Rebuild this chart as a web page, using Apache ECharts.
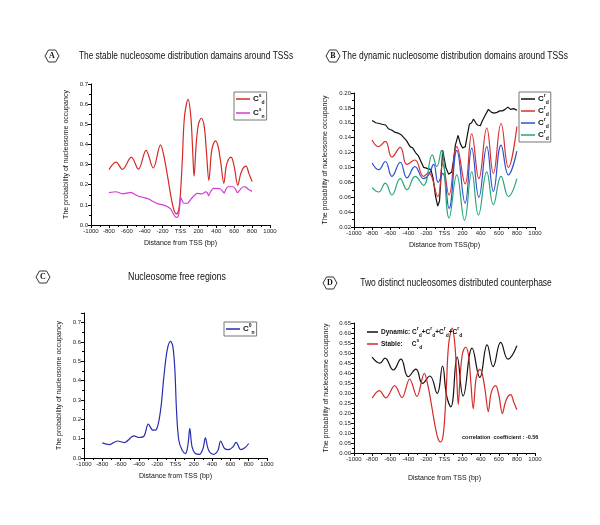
<!DOCTYPE html>
<html><head><meta charset="utf-8">
<script src="https://cdn.jsdelivr.net/npm/echarts@6/dist/echarts.min.js"></script>
<style>html,body{margin:0;padding:0;background:#fff}#c{width:600px;height:525px}</style>
</head><body><div id="c"></div>
<script>
// ---------- Panel A : stable nucleosomes ----------
const xA_red = [-800,-720,-648,-550,-470,-385,-305,-223,-180,-140,-100,-70,-45,-20,0,20,45,85,115,135,152,175,200,232,265,290,317,345,365,392,420,450,484,510,535,565,600,640,670,700,732,765,800];
const yA_red = [0.274,0.312,0.276,0.337,0.277,0.370,0.283,0.398,0.33,0.23,0.125,0.07,0.055,0.075,0.16,0.32,0.54,0.624,0.54,0.38,0.242,0.40,0.50,0.53,0.49,0.36,0.222,0.36,0.40,0.418,0.39,0.31,0.207,0.29,0.325,0.337,0.29,0.197,0.25,0.282,0.292,0.255,0.216];
const xA_mag = [-800,-720,-650,-600,-555,-500,-470,-400,-350,-300,-250,-200,-150,-110,-85,-60,-40,-25,-10,0,15,35,80,110,140,185,240,280,300,314,335,369,443,470,487,510,535,590,615,635,660,701,730,756,800];
const yA_mag = [0.161,0.165,0.155,0.158,0.162,0.150,0.143,0.135,0.128,0.115,0.105,0.100,0.092,0.080,0.060,0.042,0.038,0.045,0.085,0.138,0.125,0.108,0.108,0.125,0.140,0.157,0.154,0.164,0.160,0.145,0.165,0.182,0.180,0.168,0.158,0.180,0.190,0.190,0.178,0.160,0.172,0.190,0.188,0.178,0.167];

// ---------- Panel B : dynamic nucleosomes ----------
const xB_black = [-800,-760,-720,-690,-650,-620,-580,-545,-510,-480,-450,-420,-380,-350,-320,-290,-260,-230,-200,-175,-150,-125,-100,-75,-55,-35,-20,-5,15,45,80,100,120,150,175,200,230,255,275,300,320,345,365,395,420,450,485,520,550,580,610,640,670,700,730,760,800];
const yB_black = [0.163,0.160,0.159,0.158,0.157,0.152,0.150,0.147,0.146,0.144,0.140,0.136,0.128,0.126,0.120,0.116,0.108,0.100,0.099,0.098,0.097,0.085,0.062,0.048,0.055,0.095,0.123,0.122,0.100,0.091,0.094,0.110,0.130,0.143,0.132,0.126,0.128,0.145,0.158,0.160,0.165,0.160,0.157,0.156,0.163,0.170,0.178,0.174,0.173,0.174,0.176,0.176,0.178,0.181,0.178,0.179,0.177];
const xB_red = [-800,-728,-654,-581,-489,-415,-327,-232,-176,-74,-20,50,136,228,301,380,467,540,625,706,800];
const yB_red = [0.137,0.128,0.135,0.114,0.127,0.104,0.110,0.088,0.093,0.061,0.105,0.063,0.128,0.078,0.145,0.085,0.153,0.092,0.159,0.100,0.155];
const xB_blue = [-800,-728,-654,-581,-489,-415,-327,-232,-176,-120,-70,-20,50,136,228,301,380,467,540,625,706,800];
const yB_blue = [0.106,0.097,0.108,0.088,0.107,0.086,0.101,0.085,0.090,0.104,0.080,0.092,0.045,0.123,0.052,0.126,0.060,0.128,0.068,0.130,0.090,0.122];
const xB_green = [-800,-728,-654,-581,-489,-415,-324,-232,-135,-85,-35,51,136,221,301,375,467,540,625,706,800];
const yB_green = [0.073,0.067,0.079,0.063,0.085,0.070,0.088,0.076,0.117,0.101,0.123,0.032,0.090,0.029,0.094,0.036,0.094,0.050,0.088,0.061,0.085];

// ---------- Panel C : nucleosome free regions ----------
const xC = [-800,-724,-634,-561,-453,-398,-344,-297,-246,-210,-163,-127,-90,-54,-29,-7,11,36,73,109,138,156,181,217,261,301,326,362,417,464,493,536,580,627,663,714,761,800];
const yC = [0.078,0.069,0.088,0.080,0.114,0.106,0.113,0.175,0.144,0.147,0.248,0.421,0.560,0.603,0.577,0.456,0.248,0.092,0.040,0.023,0.075,0.153,0.057,0.023,0.019,0.049,0.104,0.040,0.019,0.040,0.088,0.049,0.043,0.057,0.081,0.043,0.054,0.075];

// ---------- Panel D : counterphase ----------
const xD_dyn = [-800,-713,-658,-566,-482,-401,-316,-243,-162,-81,-22,22,70,140,206,305,390,471,537,621,702,800];
const yD_dyn = [0.479,0.449,0.474,0.415,0.469,0.382,0.419,0.348,0.385,0.298,0.435,0.29,0.231,0.479,0.285,0.524,0.378,0.541,0.432,0.553,0.469,0.536];
const xD_stab = xA_red;
const yD_stab = yA_red;

const xTicks = {min:-1000, max:1000, interval:200};
const corrText = 'correlation  coefficient : -0.56';

function zip(xs, ys){ return xs.map((x,i)=>[x, ys[i]]); }

const chart = echarts.init(document.getElementById('c'), null, {renderer:'canvas'});
const lab = {fontSize:6, color:'#222', fontFamily:'Arial'};
function xAx(gi, gap, name){
  return {gridIndex:gi, type:'value', min:xTicks.min, max:xTicks.max, interval:xTicks.interval,
    name:name, nameLocation:'middle', nameGap:gap, nameTextStyle:{fontSize:7, color:'#111', fontFamily:'Arial'},
    axisLine:{onZero:false, lineStyle:{color:'#000', width:1}},
    axisTick:{show:true, length:3, lineStyle:{color:'#000'}},
    minorTick:{show:true, splitNumber:2, length:2, lineStyle:{color:'#000'}},
    splitLine:{show:false},
    axisLabel:Object.assign({margin:3, formatter:v=> v===0?'TSS':String(v)}, lab)};
}
function yAx(gi, min, max, iv, dec, extra){
  return Object.assign({gridIndex:gi, type:'value', min:min, max:max, interval:iv,
    name:'The probability of nucleosome occupancy', nameLocation:'middle', nameGap:21,
    nameTextStyle:{fontSize:7, color:'#111', fontFamily:'Arial'},
    axisLine:{show:true, onZero:false, lineStyle:{color:'#000', width:1}},
    axisTick:{show:true, length:3, lineStyle:{color:'#000'}},
    minorTick:{show:true, splitNumber:2, length:2, lineStyle:{color:'#000'}},
    splitLine:{show:false},
    axisLabel:Object.assign({margin:3, formatter:v=>v.toFixed(dec)}, lab)}, extra||{});
}
function line(name, xi, data, color, smooth){
  return {name:name, type:'line', xAxisIndex:xi, yAxisIndex:xi, data:data, symbol:'none',
    smooth:smooth, lineStyle:{color:color, width:1.2}, itemStyle:{color:color}, animation:false};
}
const rich = {
  c:{fontSize:8, fontWeight:'bold', color:'#111', fontFamily:'Arial', lineHeight:12},
  u:{fontSize:5, fontWeight:'bold', color:'#111', fontFamily:'Arial', verticalAlign:'top', lineHeight:12},
  d:{fontSize:5, fontWeight:'bold', color:'#111', fontFamily:'Arial', verticalAlign:'bottom', lineHeight:12},
  b:{fontSize:6.5, fontWeight:'bold', color:'#111', fontFamily:'Arial', lineHeight:12}
};
const legNames = {
  'A_s':'{c|C}{u|s}{d|d}', 'A_n':'{c|C}{u|s}{d|n}',
  'B1':'{c|C}{u|r}{d|d}', 'B2':'{c|C}{u|r}{d|d}', 'B3':'{c|C}{u|r}{d|d}', 'B4':'{c|C}{u|r}{d|d}',
  'C0':'{c|C}{u|0}{d|n}',
  'D_dyn':'{b|Dynamic: }{b|C}{u|r}{d|d}{b|+C}{u|r}{d|d}{b|+C}{u|r}{d|d}{b|+C}{u|r}{d|d}',
  'D_st':'{b|Stable:     C}{u|s}{d|d}'
};
function legend(names, left, top, border, gap, h){
  return {data:names, left:left, top:top, orient:'vertical', icon:'rect', itemWidth:border?14:11, itemHeight:1.5, itemGap:gap,
    padding:border?[1,2,1,2]:0, borderColor:border?'#777':'transparent', borderWidth:border?1:0, borderRadius:0,
    selectedMode:false, textStyle:{rich:rich, padding:[0,0,0,-2], lineHeight:h||10}, formatter:n=>legNames[n]};
}
function hexagon(cx, cy, letter){
  return [{type:'polygon', shape:{points:[[cx-7,cy],[cx-3.5,cy-6],[cx+3.5,cy-6],[cx+7,cy],[cx+3.5,cy+6],[cx-3.5,cy+6]]},
    style:{fill:'#fff', stroke:'#333', lineWidth:1}},
    {type:'text', x:cx, y:cy, style:{text:letter, fill:'#111', font:'bold 8px "Liberation Serif",serif', align:'center', verticalAlign:'middle'}}];
}
function title(cx, cy, t, sx){
  return {type:'text', x:cx, y:cy, scaleX:sx, style:{text:t, fill:'#111', font:'11px "Liberation Sans",Arial,sans-serif', align:'center', verticalAlign:'middle'}};
}
const option = {
  backgroundColor:'#fff',
  animation:false,
  grid:[
    {left:91, top:84, width:179, height:141},
    {left:354, top:93, width:181, height:134},
    {left:84, top:313, width:183, height:145},
    {left:354, top:323, width:181, height:130}
  ],
  xAxis:[xAx(0,15,'Distance from TSS (bp)'), xAx(1,15,'Distance from TSS(bp)'), xAx(2,15,'Distance from TSS (bp)'), xAx(3,22,'Distance from TSS (bp)')],
  yAxis:[yAx(0,0,0.7,0.1,1), yAx(1,0.02,0.20,0.02,2,{nameGap:25}), yAx(2,0,0.75,0.1,1,{axisLabel:Object.assign({margin:3, showMaxLabel:false, formatter:v=>v.toFixed(1)}, lab)}), yAx(3,0,0.65,0.05,2,{nameGap:24})],
  legend:[
    legend(['A_s','A_n'], 234, 92, true, 2),
    legend(['B1','B2','B3','B4'], 519, 92, true, 0),
    legend(['C0'], 224, 322, true, 0),
    legend(['D_dyn','D_st'], 367, 326, false, 0)
  ],
  series:[
    line('A_s',0,zip(xA_red,yA_red),'#d32a26',0.35),
    line('A_n',0,zip(xA_mag,yA_mag),'#d43bd4',0.2),
    line('B1',1,zip(xB_black,yB_black),'#111111',0),
    line('B2',1,zip(xB_red,yB_red),'#d9302e',0.45),
    line('B3',1,zip(xB_blue,yB_blue),'#2c4fd0',0.45),
    line('B4',1,zip(xB_green,yB_green),'#27a478',0.45),
    line('C0',2,zip(xC,yC),'#2a2eb0',0.35),
    line('D_dyn',3,zip(xD_dyn,yD_dyn),'#111111',0.45),
    line('D_st',3,zip(xD_stab,yD_stab),'#d42a2a',0.35)
  ],
  graphic:[].concat(
    hexagon(52,56,'A'), hexagon(333,56,'B'), hexagon(43,277,'C'), hexagon(330,283,'D'),
    [title(186,56,'The stable nucleosome distribution damains around TSSs',0.76),
     title(455,56,'The dynamic nucleosome distribution domains around TSSs',0.77),
     title(177,277,'Nucleosome free regions',0.8),
     title(456,283,'Two distinct nucleosomes distributed counterphase',0.77),
     {type:'text', x:462, y:437, style:{text:corrText, fill:'#111', font:'bold 5.5px Arial', verticalAlign:'middle'}}]
  )
};
chart.setOption(option);
</script></body></html>
